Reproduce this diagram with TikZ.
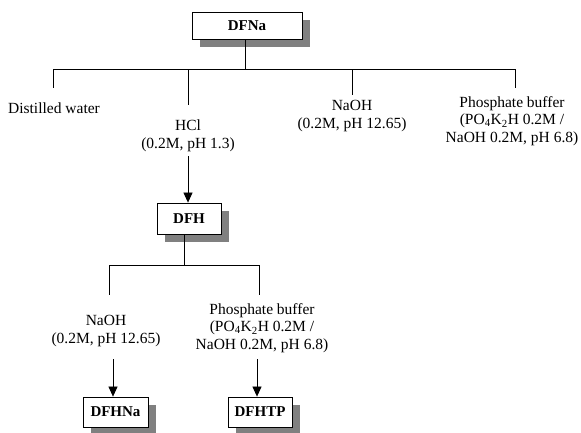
\documentclass[tikz,border=0pt]{standalone}
\usepackage{fontspec}
\setmainfont{Liberation Serif}
\usetikzlibrary{arrows.meta,shadows}
\begin{document}
\begin{tikzpicture}[x=1pt,y=-1pt,
  box/.style={draw, line width=0.8pt, fill=white, inner sep=0pt,
    font=\fontsize{15}{16}\selectfont\bfseries,
    drop shadow={shadow xshift=8pt, shadow yshift=-8pt, fill=black!50, opacity=1}},
  lbl/.style={align=center, inner sep=0pt, font=\fontsize{15.5}{17.5}\selectfont},
  ln/.style={line width=0.7pt},
  arr/.style={line width=0.7pt, -{Triangle[width=9pt,length=10pt]}}]
\useasboundingbox (0,0) rectangle (581,432);
% boxes
\node[box, minimum width=110pt, minimum height=27pt] (dfna) at (247,25.5) {DFNa};
\node[box, minimum width=64pt, minimum height=31pt] (dfh) at (189,218.5) {DFH};
\node[box, minimum width=65pt, minimum height=30pt] (dfhna) at (115.5,412) {DFHNa};
\node[box, minimum width=64pt, minimum height=30pt] (dfhtp) at (260,412) {DFHTP};
% labels
\node[lbl] (water) at (54,108) {Distilled water};
\node[lbl] (hcl) at (188,136) {HCl\\(0.2M, pH 1.3)};
\node[lbl] (naoh) at (352,116) {NaOH\\(0.2M, pH 12.65)};
\node[lbl] (phos) at (512,121) {Phosphate buffer\\(PO\textsubscript{4}K\textsubscript{2}H 0.2M /\\NaOH 0.2M, pH 6.8)};
\node[lbl] (naoh2) at (106,331) {NaOH\\(0.2M, pH 12.65)};
\node[lbl] (phos2) at (262,328) {Phosphate buffer\\(PO\textsubscript{4}K\textsubscript{2}H 0.2M /\\NaOH 0.2M, pH 6.8)};
% top tree
\coordinate (tL) at (53,69);
\coordinate (tR) at (515,69);
\coordinate (tM) at (245,69);
\coordinate (tH) at (188,69);
\coordinate (tN) at (352,69);
\coordinate (eW) at (53,88);
\coordinate (eH) at (188,105);
\coordinate (eN) at (352,95);
\coordinate (eP) at (515,88);
\coordinate (aH) at (188,156);
\draw[ln] (tM |- dfna.south) -- (tM);
\draw[ln] (tL) -- (tR);
\draw[ln] (tL) -- (eW);
\draw[ln] (tH) -- (eH);
\draw[ln] (tN) -- (eN);
\draw[ln] (tR) -- (eP);
\draw[arr] (aH) -- (aH |- dfh.north);
% lower tree
\coordinate (bL) at (109,265);
\coordinate (bR) at (259,265);
\coordinate (bM) at (184,265);
\coordinate (eL2) at (109,295);
\coordinate (eR2) at (259,295);
\coordinate (a1) at (113,359);
\coordinate (a2) at (257,359);
\draw[ln] (bM |- dfh.south) -- (bM);
\draw[ln] (bL) -- (bR);
\draw[ln] (bL) -- (eL2);
\draw[ln] (bR) -- (eR2);
\draw[arr] (a1) -- (a1 |- dfhna.north);
\draw[arr] (a2) -- (a2 |- dfhtp.north);
\end{tikzpicture}
\end{document}
